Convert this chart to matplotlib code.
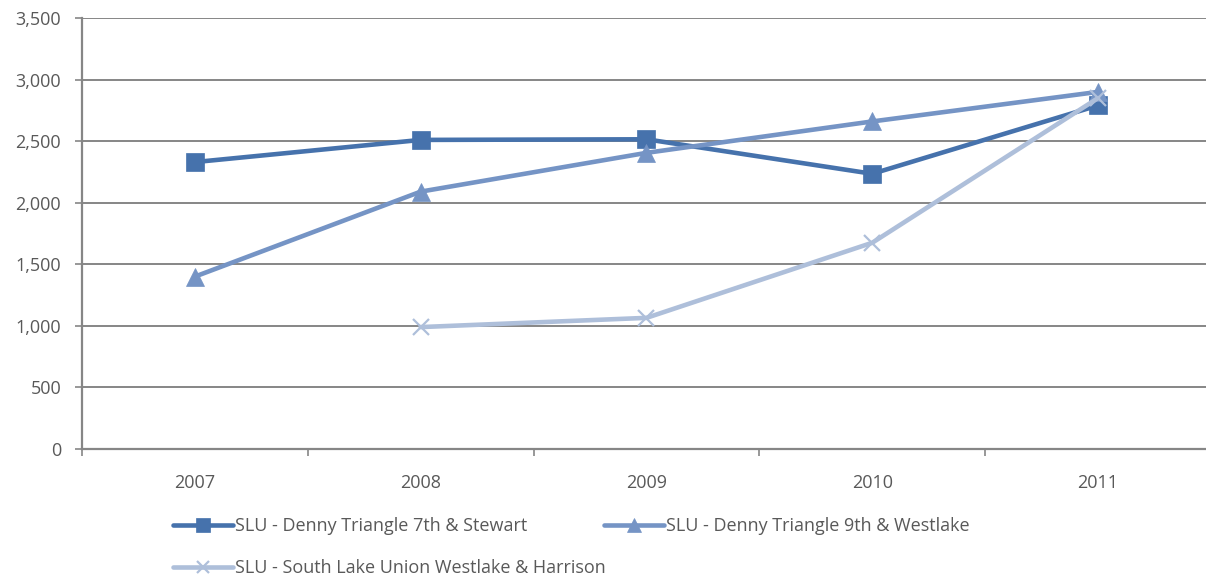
import matplotlib
matplotlib.use("Agg")
import matplotlib.pyplot as plt
from matplotlib.ticker import FuncFormatter, FixedLocator

# ---------------------------------------------------------------
# DATA
# ---------------------------------------------------------------
YEARS = ["2007", "2008", "2009", "2010", "2011"]
SERIES_NAMES = [
    "SLU - Denny Triangle 7th & Stewart",
    "SLU - Denny Triangle 9th & Westlake",
    "SLU - South Lake Union Westlake & Harrison",
]
STEWART = [2330, 2510, 2515, 2235, 2790]
WESTLAKE_9TH = [1400, 2090, 2405, 2660, 2900]
HARRISON = [None, 990, 1065, 1675, 2850]   # no reading in 2007
Y_TICKS = [0, 500, 1000, 1500, 2000, 2500, 3000, 3500]

# ---------------------------------------------------------------
# STYLE
# ---------------------------------------------------------------
TEXT_GRAY = "#595959"
GRID_GRAY = "#868686"
COLORS = ["#4672AC", "#7594C5", "#AEBFDA"]
MARKERS = ["s", "^", "x"]
MSIZES = [13, 13, 12]

plt.rcParams["font.family"] = ["Open Sans", "DejaVu Sans"]
plt.rcParams["font.size"] = 13

fig = plt.figure(figsize=(12.06, 5.77), dpi=100)
ax = fig.add_axes([82 / 1206, 1 - 449 / 577, 1 - 82 / 1206, (449 - 18) / 577])

x = list(range(len(YEARS)))
all_series = [STEWART, WESTLAKE_9TH, HARRISON]
handles = []
for vals, name, col, mk, ms in zip(all_series, SERIES_NAMES, COLORS, MARKERS, MSIZES):
    xs = [i for i, v in zip(x, vals) if v is not None]
    ys = [v for v in vals if v is not None]
    (h,) = ax.plot(xs, ys, color=col, linewidth=3.3, marker=mk, markersize=ms,
                   markeredgewidth=1.6 if mk == "x" else 0.5, markeredgecolor=col,
                   label=name, solid_capstyle="round")
    handles.append(h)

ax.set_ylim(0, 3500)
ax.set_xlim(-0.5, 4.478)

# y axis
ax.yaxis.set_major_locator(FixedLocator(Y_TICKS))
ax.yaxis.set_major_formatter(FuncFormatter(lambda v, p: f"{int(v):,}"))
ax.tick_params(axis="y", direction="out", length=5, width=1.2, color=GRID_GRAY,
               labelcolor=TEXT_GRAY, pad=10)
ax.grid(True, axis="y", color=GRID_GRAY, linewidth=1.4)
ax.set_axisbelow(True)

# x axis: labels at categories, tick marks between categories
ax.set_xticks(x)
ax.set_xticklabels(YEARS)
ax.set_xticks([i + 0.5 for i in range(len(YEARS) - 1)] + [-0.5], minor=True)
ax.tick_params(axis="x", which="major", length=0, pad=18, labelcolor=TEXT_GRAY)
ax.tick_params(axis="x", which="minor", direction="out", length=5, width=1.2,
               color=GRID_GRAY)

for side in ["top", "right"]:
    ax.spines[side].set_visible(False)
for side in ["left", "bottom"]:
    ax.spines[side].set_color(GRID_GRAY)
    ax.spines[side].set_linewidth(1.6)

# legend: three entries, placed like the original wrapped legend
LEG_POS = [(173 / 1206, 1 - 526 / 577), (604 / 1206, 1 - 526 / 577), (173 / 1206, 1 - 568 / 577)]
for h, pos in zip(handles, LEG_POS):
    leg = fig.legend([h], [h.get_label()], loc="center left", bbox_to_anchor=pos,
                     frameon=False, borderpad=0, borderaxespad=0, handlelength=3.3,
                     handletextpad=0.15, markerscale=0.75, numpoints=1)
    for t in leg.get_texts():
        t.set_color(TEXT_GRAY)

fig.savefig("out.png", dpi=100)
